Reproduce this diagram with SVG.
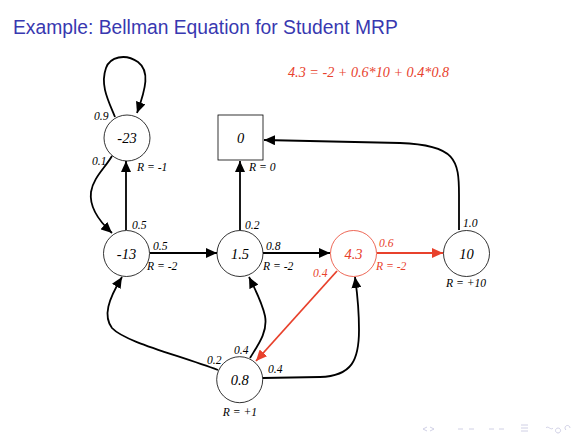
<svg xmlns="http://www.w3.org/2000/svg" width="580" height="435" viewBox="0 0 580 435">
<style>
.title{font-family:"Liberation Sans",Arial,sans-serif;font-size:19.3px;fill:#3838b0}
.node{fill:#fff;stroke:#000;stroke-width:0.8}
.nred{fill:#fff;stroke:#e8412c;stroke-width:0.8}
.val{font-family:"Liberation Serif","Times New Roman",serif;font-style:italic;font-size:14.5px;fill:#000;text-anchor:middle}
.lab{font-family:"Liberation Serif","Times New Roman",serif;font-style:italic;font-size:11.6px;fill:#000}
.red{fill:#e8412c}
.e{fill:none;stroke:#000;stroke-width:1.8}
.er{fill:none;stroke:#e8412c;stroke-width:1.8}
.nav{fill:none;stroke:#c4c4de;stroke-width:0.8}
</style>
<defs>
<marker id="ah" markerUnits="userSpaceOnUse" markerWidth="12" markerHeight="10" refX="11" refY="5" orient="auto">
<path d="M0,0 L11,5 L0,10 Z" fill="#000"/>
</marker>
<marker id="ahr" markerUnits="userSpaceOnUse" markerWidth="12" markerHeight="10" refX="11" refY="5" orient="auto">
<path d="M0,0 L11,5 L0,10 Z" fill="#e8412c"/>
</marker>
</defs>
<text class="title" x="13" y="34">Example: Bellman Equation for Student MRP</text>
<text class="lab red" x="288" y="77" style="font-size:14.2px">4.3 = -2 + 0.6*10 + 0.4*0.8</text>
<g id="connectors">
<path class="e" d="M115,117 C108,100 100,85 106,68 C110,57 125,53 138,62 C150,71 146,88 137,113" marker-end="url(#ah)"/>
<path class="e" d="M112,156 C105,168 93,178 91,192 C89,208 100,222 112,233" marker-end="url(#ah)"/>
<path class="e" d="M126,230 L126,161" marker-end="url(#ah)"/>
<path class="e" d="M240,230 L240,161" marker-end="url(#ah)"/>
<path class="e" d="M459,230 L459,195 C459,160 456,145 400,143 L264,140" marker-end="url(#ah)"/>
<path class="e" d="M150,253 L217,253" marker-end="url(#ah)"/>
<path class="e" d="M263,253 L330,253" marker-end="url(#ah)"/>
<path class="er" d="M377,253 L443,253" marker-end="url(#ahr)"/>
<path class="er" d="M337,271 L256,361" marker-end="url(#ahr)"/>
<path class="e" d="M218,370 C175,354 125,342 112,328 C103,316 108,300 122,277" marker-end="url(#ah)"/>
<path class="e" d="M250,358 C258,345 268,332 265,316 C262,302 256,291 249,277" marker-end="url(#ah)"/>
<path class="e" d="M263,378 L320,377 C352,376 359,360 359,330 C359,305 357,292 355,277" marker-end="url(#ah)"/>
</g>
<g id="n-23"><circle class="node" cx="127" cy="138" r="23"/><text class="val" x="127" y="143">-23</text></g>
<g id="n0"><rect class="node" x="218" y="115" width="45" height="45"/><text class="val" x="240.5" y="142.5">0</text></g>
<g id="n-13"><circle class="node" cx="126.5" cy="253.5" r="23"/><text class="val" x="126.5" y="258.5">-13</text></g>
<g id="n1_5"><circle class="node" cx="240" cy="253.5" r="23"/><text class="val" x="240" y="258.5">1.5</text></g>
<g id="n4_3"><circle class="nred" cx="353.5" cy="253.5" r="23"/><text class="val red" x="353.5" y="258.5">4.3</text></g>
<g id="n10"><circle class="node" cx="466.5" cy="253.5" r="23"/><text class="val" x="466.5" y="258.5">10</text></g>
<g id="n0_8"><circle class="node" cx="239.7" cy="379.7" r="23"/><text class="val" x="239.7" y="384.7">0.8</text></g>
<g id="labels">
<text class="lab" x="94" y="120">0.9</text>
<text class="lab" x="92" y="165">0.1</text>
<text class="lab" x="137" y="171">R = -1</text>
<text class="lab" x="132" y="229">0.5</text>
<text class="lab" x="249" y="171">R = 0</text>
<text class="lab" x="245" y="229">0.2</text>
<text class="lab" x="153" y="250">0.5</text>
<text class="lab" x="147" y="270">R = -2</text>
<text class="lab" x="266" y="250">0.8</text>
<text class="lab" x="263" y="270">R = -2</text>
<text class="lab red" x="313" y="277">0.4</text>
<text class="lab red" x="379" y="247">0.6</text>
<text class="lab red" x="376" y="270">R = -2</text>
<text class="lab" x="463" y="227">1.0</text>
<text class="lab" x="466" y="287" text-anchor="middle">R = +10</text>
<text class="lab" x="207" y="364">0.2</text>
<text class="lab" x="234" y="354">0.4</text>
<text class="lab" x="268" y="373">0.4</text>
<text class="lab" x="240" y="416" text-anchor="middle">R = +1</text>
</g>
<g id="nav">
<path class="nav" d="M427,427 L423,429 L427,431 M430,427 L434,429 L430,431"/>
<path class="nav" d="M458,429 L463,429 M469,429 L474,429"/>
<path class="nav" d="M489,429 L494,429 M499,429 L504,429"/>
<path class="nav" d="M521,425 L528,425 M521,428 L528,428 M521,431 L528,431"/>
<path class="nav" d="M546,428 C548,425 551,431 553,428 M558,428 a2.5,2.5 0 1 0 0.1,0 M566,430 a2.5,2.5 0 1 1 4,-2"/>
</g>
</svg>
